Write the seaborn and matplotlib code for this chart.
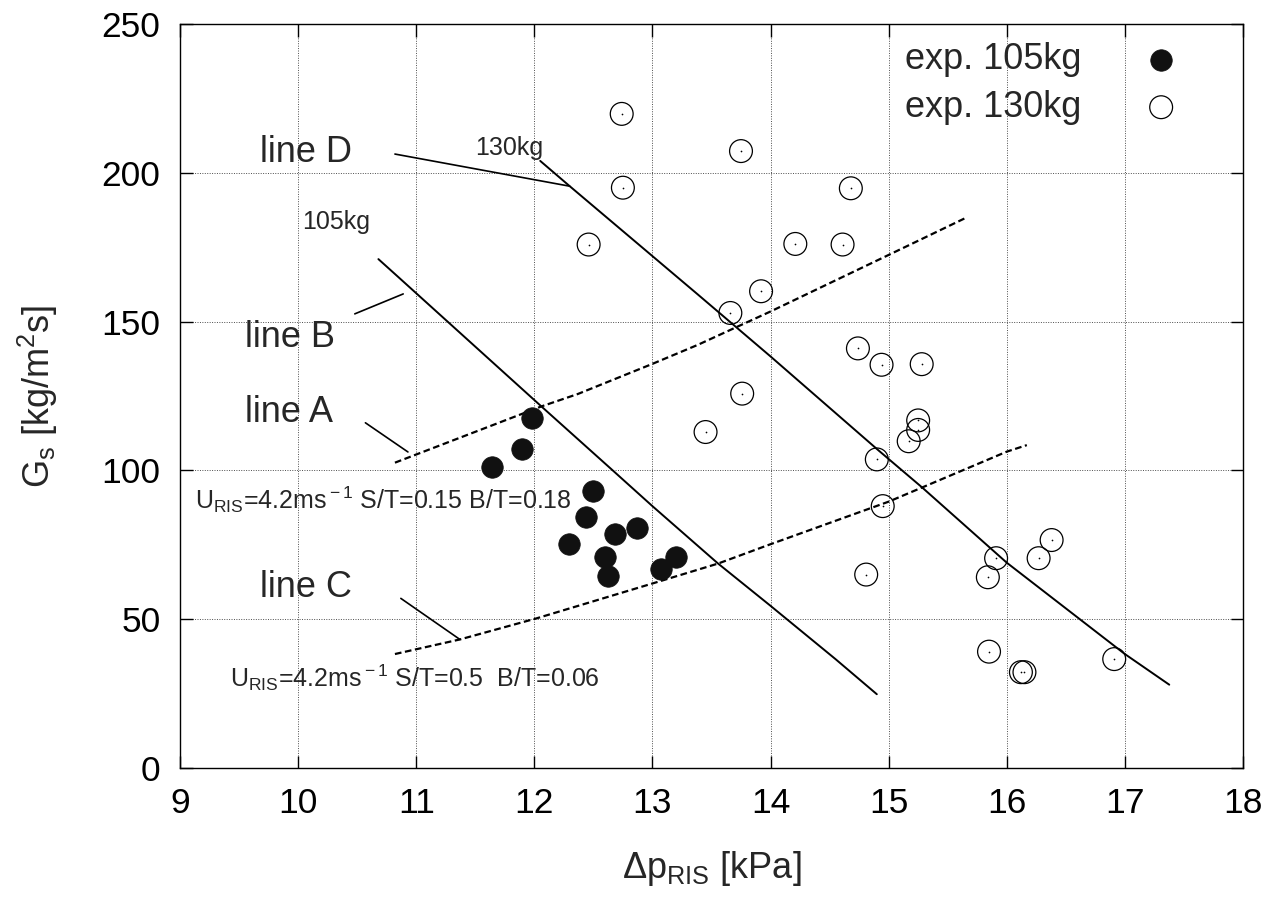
import numpy as np
import pandas as pd
import seaborn as sns
import matplotlib.pyplot as plt

# experimental points, 105 kg (filled)
x_105 = [11.64, 11.90, 11.98, 12.50, 12.44, 12.29, 12.68, 12.87, 12.60, 12.62, 13.07, 13.20]
y_105 = [101.0, 107.1, 117.7, 93.0, 84.5, 75.3, 78.8, 80.5, 71.0, 64.5, 66.9, 70.8]

# experimental points, 130 kg (open)
x_130 = [12.74, 13.75, 12.75, 14.68, 12.46, 14.21, 14.61, 13.92, 13.66, 14.74,
         14.94, 15.28, 13.76, 13.45, 15.25, 15.25, 15.17, 14.90, 14.95, 16.38,
         15.91, 16.27, 14.81, 15.84, 15.85, 16.12, 16.15, 16.91]
y_130 = [219.8, 207.3, 195.0, 194.8, 175.9, 176.1, 175.9, 160.2, 152.9, 141.0,
         135.5, 135.7, 125.8, 112.9, 116.8, 113.6, 109.8, 103.7, 88.0, 76.6,
         70.5, 70.5, 65.0, 64.1, 39.1, 32.2, 32.2, 36.6]

# solid curves (105kg / 130kg)
line105_x = [10.68, 10.845, 12.06, 12.65, 13.0, 13.556, 14.0, 14.55, 14.9]
line105_y = [171.0, 165.1, 121.5, 100.5, 88.0, 68.7, 54.5, 36.6, 24.8]
line130_x = [12.05, 12.30, 13.385, 14.0, 14.915, 15.28, 16.0, 17.0, 17.376]
line130_y = [204.0, 195.5, 159.1, 138.3, 106.7, 94.4, 69.0, 38.3, 28.0]

# dashed curves (line A / line C)
lineA_x = [10.82, 12.06, 12.37, 13.0, 13.385, 14.0, 15.0, 15.65]
lineA_y = [102.6, 121.5, 125.7, 135.8, 142.2, 153.4, 172.4, 184.8]
lineC_x = [10.82, 11.37, 12.02, 13.0, 13.556, 14.0, 15.0, 16.0, 16.17]
lineC_y = [38.3, 43.2, 50.3, 62.0, 68.7, 75.2, 89.5, 106.3, 108.5]

# leader lines for the labels
leaders = {
    "D": ([10.82, 12.30], [206.3, 195.5]),
    "B": ([10.48, 10.89], [152.6, 159.3]),
    "A": ([10.57, 10.93], [116.0, 106.2]),
    "C": ([10.87, 11.37], [57.0, 43.2]),
}

sns.set_style("ticks")
plt.rcParams['font.family'] = ['Liberation Sans', 'DejaVu Sans']
plt.rcParams['mathtext.fontset'] = 'custom'
plt.rcParams['mathtext.rm'] = 'Liberation Sans'
plt.rcParams['mathtext.it'] = 'Liberation Sans:italic'

fig = plt.figure(figsize=(12.81, 8.99), dpi=100)
ax = fig.add_axes([0.1405, 0.1457, 0.8298, 0.8276])

ax.grid(True, linestyle=(0, (1, 1.5)), color='0.3', linewidth=0.7)
ax.set_axisbelow(True)

sns.lineplot(x=line105_x, y=line105_y, sort=False, estimator=None, color='k', lw=1.4, ax=ax)
sns.lineplot(x=line130_x, y=line130_y, sort=False, estimator=None, color='k', lw=1.4, ax=ax)
sns.lineplot(x=lineA_x, y=lineA_y, sort=False, estimator=None, color='k', lw=1.6,
             linestyle=(0, (3, 1.6)), ax=ax)
sns.lineplot(x=lineC_x, y=lineC_y, sort=False, estimator=None, color='k', lw=1.6,
             linestyle=(0, (3, 1.6)), ax=ax)
for k, (lx, ly) in leaders.items():
    sns.lineplot(x=lx, y=ly, sort=False, estimator=None, color='k', lw=1.2, ax=ax)

sns.scatterplot(x=x_105, y=y_105, s=240, color='#111111', edgecolor='#111111',
                linewidth=0.5, label='exp. 105kg', ax=ax, zorder=3)
sns.scatterplot(x=x_130, y=y_130, s=270, color='k', facecolor='none', edgecolor='k',
                linewidth=0.9, label='exp. 130kg', ax=ax, zorder=3)
sns.scatterplot(x=x_130, y=y_130, s=1.5, color='k', linewidth=0, legend=False, ax=ax, zorder=3)

big = 26
ax.text(9.68, 206.7, "line D", fontsize=big, va='center')
ax.text(9.55, 144.5, "line B", fontsize=big, va='center')
ax.text(9.55, 119.6, "line A", fontsize=big, va='center')
ax.text(9.68, 60.5, "line C", fontsize=big, va='center')
ax.text(10.03, 183.5, "105kg", fontsize=18, va='center')
ax.text(11.50, 208.3, "130kg", fontsize=18, va='center')
ax.text(9.13, 90.0, r"U$_{\rm RIS}$=4.2ms$^{\rm -1}$ S/T=0.15 B/T=0.18", fontsize=18, va='center')
ax.text(9.42, 30.2, r"U$_{\rm RIS}$=4.2ms$^{\rm -1}$ S/T=0.5  B/T=0.06", fontsize=18, va='center')

ax.set_xlim(9, 18)
ax.set_ylim(0, 250)
ax.set_xticks(range(9, 19))
ax.set_yticks(range(0, 251, 50))
ax.tick_params(direction='in', top=True, right=True, length=9, width=1,
               labelsize=25.5, pad=14, colors='k')
for sp in ax.spines.values():
    sp.set_visible(True)
    sp.set_color('k')
    sp.set_linewidth(1.0)

ax.set_xlabel(r"Δp$_{\rm RIS}$ [kPa]", fontsize=big)
ax.set_ylabel(r"G$_{\rm s}$ [kg/m$^{\rm 2}$s]", fontsize=big)
ax.xaxis.set_label_coords(0.5, -0.109)
ax.yaxis.set_label_coords(-0.113, 0.50)

ax.legend(loc='upper right', bbox_to_anchor=(0.974, 1.0), frameon=False,
          markerfirst=False, fontsize=big, labelspacing=0.35, handletextpad=1.2,
          borderaxespad=0.1)

fig.savefig("out.png", dpi=100)
